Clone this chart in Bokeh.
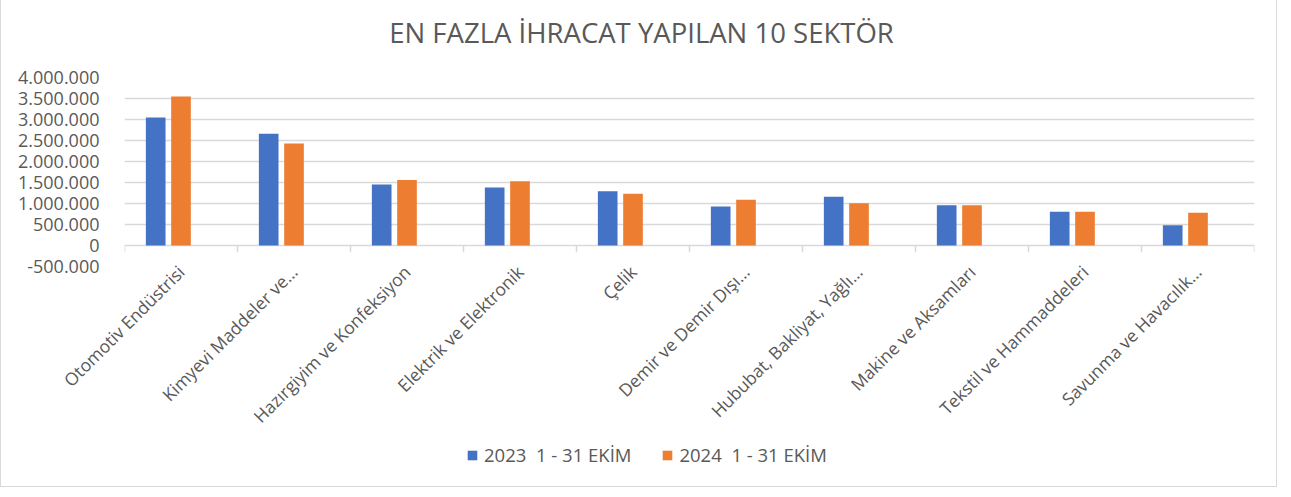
import math
from bokeh.plotting import figure
from bokeh.layouts import column
from bokeh.models import (FixedTicker, Legend, LegendItem, ColumnDataSource, Label)
from bokeh.embed import file_html
from bokeh.resources import INLINE

# ---- data ----
categories = ["Otomotiv Endüstrisi", "Kimyevi Maddeler ve…", "Hazırgiyim ve Konfeksiyon",
              "Elektrik ve Elektronik", "Çelik", "Demir ve Demir Dışı…",
              "Hububat, Bakliyat, Yağlı…", "Makine ve Aksamları",
              "Tekstil ve Hammaddeleri", "Savunma ve Havacılık…"]
series_2023 = [3050000, 2660000, 1450000, 1380000, 1290000, 930000, 1160000, 960000, 805000, 485000]
series_2024 = [3550000, 2430000, 1560000, 1530000, 1230000, 1090000, 1005000, 960000, 805000, 780000]
series_names = ["2023\u00a0 1 - 31 EKİM", "2024\u00a0 1 - 31 EKİM"]
y_ticks = [-500000, 0, 500000, 1000000, 1500000, 2000000, 2500000, 3000000, 3500000, 4000000]
y_tick_labels = ["-500.000", "0", "500.000", "1.000.000", "1.500.000", "2.000.000",
                 "2.500.000", "3.000.000", "3.500.000", "4.000.000"]
title_text = "EN FAZLA İHRACAT YAPILAN 10 SEKTÖR"

# ---- style ----
BLUE = "#4472C4"
ORANGE = "#ED7D31"
GRID = "#d9d9d9"
TXT = "#595959"
FONT = "Open Sans"
BAR_W = 0.174
OFFSET = 0.224
W = 1275
TITLE_H = 60
LEFT = 123
RIGHT = 22

n = len(categories)
centers = [i + 0.5 for i in range(n)]

# title strip (its frame is aligned with the chart frame by the column layout,
# so its x range is expressed in canvas pixels of that frame)
tfig = figure(width=W, height=TITLE_H, x_range=(LEFT, W - RIGHT), y_range=(0, TITLE_H),
              title=None, output_backend="svg", toolbar_location=None, min_border=0,
              x_axis_location=None, y_axis_location=None)
tfig.outline_line_color = None
tfig.xgrid.grid_line_color = None
tfig.ygrid.grid_line_color = None
tfig.add_layout(Label(x=640, y=28, text=title_text, text_align="center",
                      text_baseline="alphabetic", text_font=FONT, text_font_size="27.5px",
                      text_color=TXT))

p = figure(width=W, height=380, x_range=(0, n), y_range=(y_ticks[0], y_ticks[-1]),
           output_backend="svg", toolbar_location=None,
           min_border_left=LEFT, min_border_right=RIGHT, min_border_top=17, min_border_bottom=174)
p.outline_line_color = None
p.background_fill_color = "white"
p.border_fill_color = "white"

src = ColumnDataSource(dict(
    x1=[c - OFFSET for c in centers], x2=centers,
    v1=series_2023, v2=series_2024))
p.vbar(x="x1", top="v1", bottom=0, width=BAR_W, source=src, fill_color=BLUE, line_color=None)
p.vbar(x="x2", top="v2", bottom=0, width=BAR_W, source=src, fill_color=ORANGE, line_color=None)

# category boundary tick marks at the zero line
bounds = list(range(n + 1))
p.segment(x0=bounds, y0=[0] * len(bounds), x1=bounds, y1=[-160000] * len(bounds),
          line_color=GRID, line_width=1.5)

# y axis
p.yaxis.ticker = FixedTicker(ticks=y_ticks)
p.yaxis.major_label_overrides = {t: l for t, l in zip(y_ticks, y_tick_labels)}
p.yaxis.axis_line_color = None
p.yaxis.major_tick_line_color = None
p.yaxis.minor_tick_line_color = None
p.yaxis.major_label_standoff = 19
p.yaxis.major_label_text_font = FONT
p.yaxis.major_label_text_font_size = "18px"
p.yaxis.major_label_text_color = TXT

# x axis
p.xaxis.ticker = FixedTicker(ticks=centers)
p.xaxis.major_label_overrides = {c: l for c, l in zip(centers, categories)}
p.xaxis.axis_line_color = None
p.xaxis.major_tick_line_color = None
p.xaxis.minor_tick_line_color = None
p.xaxis.major_label_orientation = math.pi / 4
p.xaxis.major_label_standoff = -4
p.xaxis.major_label_text_font = FONT
p.xaxis.major_label_text_font_size = "17.5px"
p.xaxis.major_label_text_color = TXT

p.xgrid.grid_line_color = None
p.ygrid.ticker = FixedTicker(ticks=y_ticks)
p.ygrid.grid_line_color = GRID
p.ygrid.grid_line_width = 1.5

# legend strip below the chart (swatch renderers sit outside the visible range)
leg = figure(width=W, height=46, x_range=(0, 1), y_range=(0, 1),
             title=None, output_backend="svg", toolbar_location=None, min_border=0,
             x_axis_location=None, y_axis_location=None)
leg.outline_line_color = None
leg.xgrid.grid_line_color = None
leg.ygrid.grid_line_color = None
swatch = ColumnDataSource(dict(x=[-5], top=[-5]))
l1 = leg.vbar(x="x", top="top", width=0.1, source=swatch, fill_color=BLUE, line_color=None)
l2 = leg.vbar(x="x", top="top", width=0.1, source=swatch, fill_color=ORANGE, line_color=None)
legend = Legend(items=[LegendItem(label=series_names[0], renderers=[l1]),
                       LegendItem(label=series_names[1], renderers=[l2])],
                orientation="horizontal", location=(342, 19))
legend.border_line_color = None
legend.background_fill_alpha = 0
legend.label_text_font = FONT
legend.label_text_font_size = "18.5px"
legend.label_text_color = TXT
legend.glyph_width = 12
legend.glyph_height = 12
legend.label_standoff = 6
legend.spacing = 30
legend.padding = 0
legend.margin = 0
leg.add_layout(legend, "center")

layout = column(tfig, p, leg, spacing=0)
layout.styles = {"border-left": "1px solid #d9d9d9", "border-right": "1px solid #d9d9d9",
                 "border-bottom": "1px solid #d9d9d9"}

open("out.html", "w").write(file_html(layout, INLINE))
